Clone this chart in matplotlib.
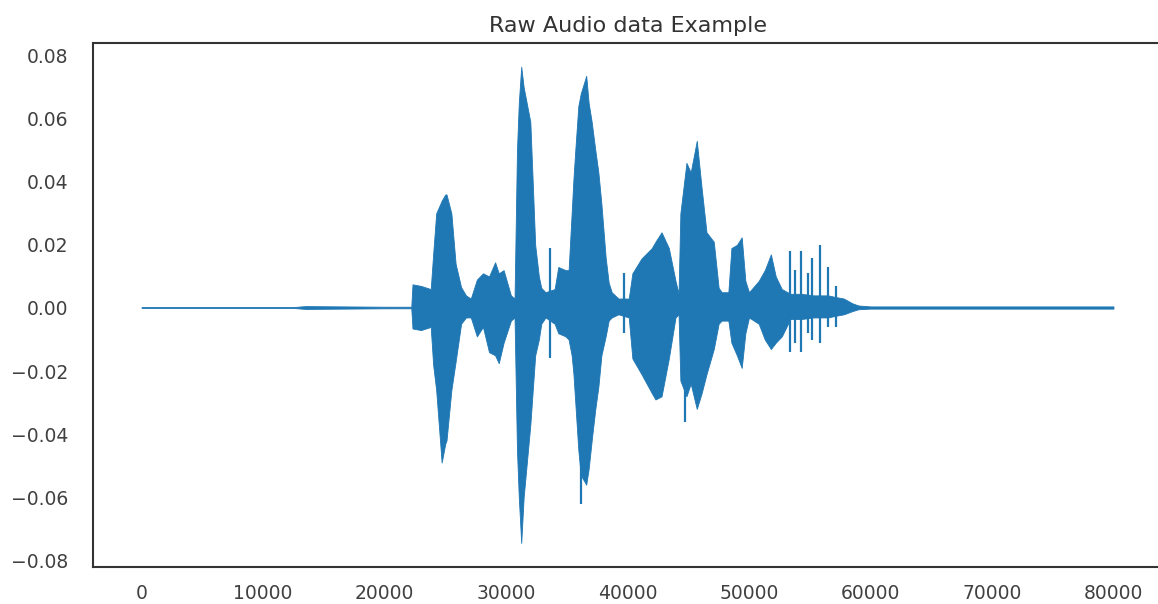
import matplotlib
matplotlib.use("Agg")
import matplotlib.pyplot as plt
import seaborn as sns

# envelope of the waveform (sample index, upper, lower)
env_x = [0, 12500, 13500, 20000, 22200, 22300, 23000, 23800, 24000, 24250,
         24700, 25000, 25100, 25500, 25850, 26300, 26700, 27100, 27600, 28100,
         28600, 29100, 29400, 29800, 30400, 30700, 30900, 31050, 31250, 31450,
         32000, 32400, 32700, 32900, 33250, 34000, 34300, 34900, 35150, 35400,
         35550, 35700, 35950, 36150, 36600, 36800, 37050, 37350, 37600, 37850,
         38200, 38450, 38700, 39250, 40100, 40400, 41150, 42000, 42300, 42800,
         43400, 43950, 44200, 44350, 44850, 45200, 45700, 46100, 46500, 47100,
         47500, 47750, 48300, 48550, 49000, 49400, 49700, 50000, 50800, 51300,
         51800, 52200, 52700, 53400, 54300, 55300, 56500, 57100, 57800, 58500,
         59000, 60000, 80000]
env_upper = [0.0003, 0.0003, 0.0006, 0.0004, 0.0004, 0.0075, 0.0070, 0.0060, 0.0170, 0.0300,
             0.0340, 0.0360, 0.0360, 0.0300, 0.0140, 0.0066, 0.0040, 0.0030, 0.0090, 0.0110,
             0.0100, 0.0145, 0.0110, 0.0120, 0.0040, 0.0030, 0.0500, 0.0650, 0.0765, 0.0700,
             0.0590, 0.0200, 0.0100, 0.0064, 0.0050, 0.0060, 0.0130, 0.0120, 0.0120, 0.0300,
             0.0410, 0.0500, 0.0640, 0.0680, 0.0736, 0.0650, 0.0590, 0.0500, 0.0430, 0.0330,
             0.0160, 0.0080, 0.0050, 0.0030, 0.0030, 0.0110, 0.0157, 0.0190, 0.0210, 0.0240,
             0.0190, 0.0086, 0.0045, 0.0300, 0.0460, 0.0430, 0.0530, 0.0380, 0.0240, 0.0210,
             0.0064, 0.0050, 0.0050, 0.0190, 0.0200, 0.0224, 0.0086, 0.0050, 0.0086, 0.0120,
             0.0170, 0.0100, 0.0060, 0.0045, 0.0045, 0.0040, 0.0040, 0.0035, 0.0030, 0.0015,
             0.0008, 0.0005, 0.0005]
env_lower = [0.0000, 0.0000, -0.0003, -0.0001, -0.0001, -0.0065, -0.0070, -0.0060, -0.0180, -0.0260,
             -0.0490, -0.0430, -0.0420, -0.0260, -0.0170, -0.0050, -0.0030, -0.0030, -0.0090, -0.0060,
             -0.0140, -0.0150, -0.0175, -0.0110, -0.0040, -0.0030, -0.0450, -0.0600, -0.0745, -0.0600,
             -0.0370, -0.0150, -0.0100, -0.0050, -0.0030, -0.0050, -0.0080, -0.0090, -0.0100, -0.0150,
             -0.0210, -0.0300, -0.0450, -0.0530, -0.0560, -0.0510, -0.0420, -0.0320, -0.0250, -0.0150,
             -0.0090, -0.0040, -0.0030, -0.0020, -0.0030, -0.0160, -0.0210, -0.0270, -0.0290, -0.0280,
             -0.0160, -0.0030, -0.0020, -0.0230, -0.0280, -0.0240, -0.0320, -0.0270, -0.0210, -0.0130,
             -0.0050, -0.0040, -0.0040, -0.0110, -0.0150, -0.0190, -0.0080, -0.0030, -0.0050, -0.0100,
             -0.0130, -0.0110, -0.0090, -0.0035, -0.0035, -0.0030, -0.0030, -0.0025, -0.0020, -0.0010,
             -0.0004, -0.0002, -0.0002]

# isolated clicks / spikes
spike_x = [33660, 36210, 39750, 44770, 53410, 53820, 54320, 54890, 55220, 55880, 56540, 57120]
spike_top = [0.019, 0.0, 0.011, 0.0, 0.018, 0.012, 0.018, 0.011, 0.016, 0.020, 0.013, 0.007]
spike_bottom = [-0.016, -0.062, -0.008, -0.036, -0.014, -0.011, -0.014, -0.008, -0.010, -0.011, -0.006, -0.006]

x_ticks = [0, 10000, 20000, 30000, 40000, 50000, 60000, 70000, 80000]
y_ticks = [-0.08, -0.06, -0.04, -0.02, 0.00, 0.02, 0.04, 0.06, 0.08]


def main():
    sns.set_style("white")
    plt.rcParams["font.family"] = ["DejaVu Sans"]
    color = "#1f77b4"

    fig = plt.figure(figsize=(11.58, 6.04), dpi=100)
    ax = fig.add_axes([0.0803, 0.0613, 0.9232, 0.868])

    ax.fill_between(env_x, env_lower, env_upper, color=color, edgecolor=color, linewidth=0.6)
    ax.vlines(spike_x, spike_bottom, spike_top, color=color, linewidth=1.6)

    ax.set_xlim(-4000, 84000)
    ax.set_ylim(-0.0821, 0.0841)
    ax.set_xticks(x_ticks)
    ax.set_yticks(y_ticks)
    ax.tick_params(axis="both", labelsize=13.5, colors=".25")
    ax.tick_params(axis="y", pad=14)
    ax.tick_params(axis="x", pad=9)
    for spine in ax.spines.values():
        spine.set_color(".2")
        spine.set_linewidth(1.5)

    ax.set_title("Raw Audio data Example", fontsize=16, color=".2", pad=8)
    fig.savefig("out.png", dpi=100)


if __name__ == "__main__":
    main()
